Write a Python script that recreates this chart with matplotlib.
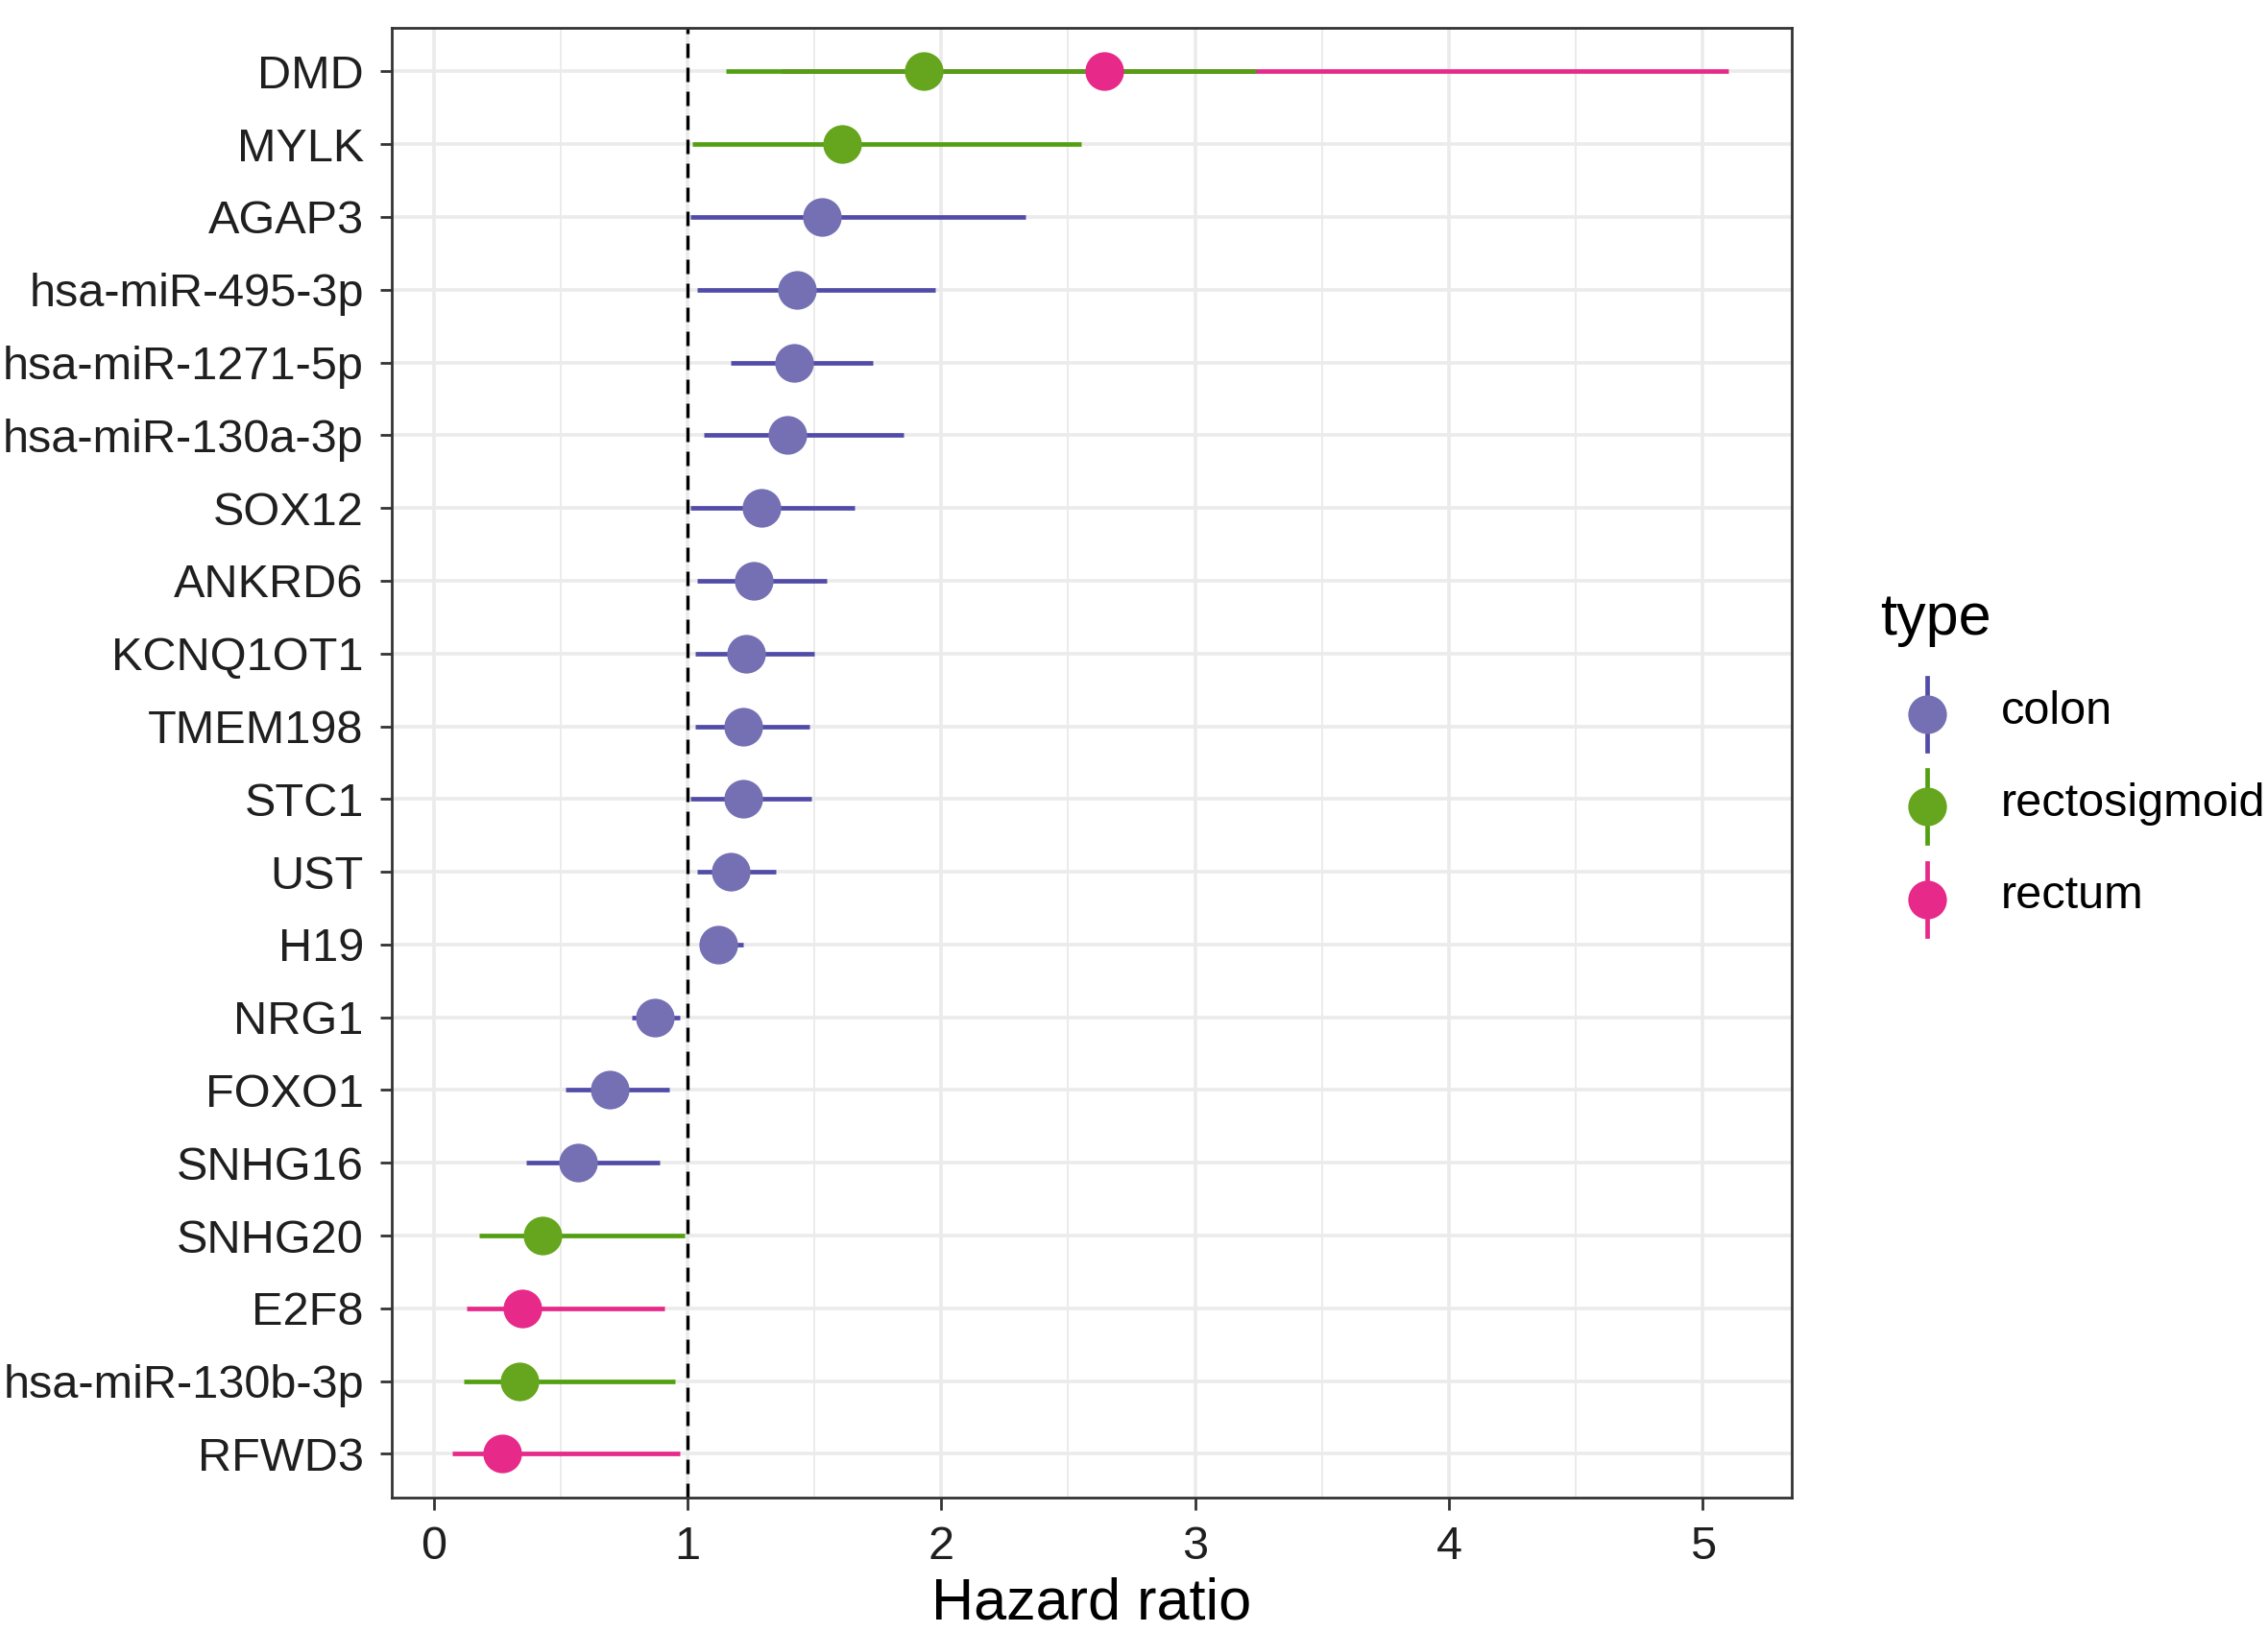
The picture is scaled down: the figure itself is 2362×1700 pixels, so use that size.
import matplotlib.pyplot as plt
from matplotlib.lines import Line2D
from matplotlib.ticker import MultipleLocator

plt.rcParams['font.family'] = ['Liberation Sans', 'DejaVu Sans']

# genes from top to bottom
genes = ['DMD', 'DMD', 'MYLK', 'AGAP3', 'hsa-miR-495-3p', 'hsa-miR-1271-5p',
         'hsa-miR-130a-3p', 'SOX12', 'ANKRD6', 'KCNQ1OT1', 'TMEM198', 'STC1',
         'UST', 'H19', 'NRG1', 'FOXO1', 'SNHG16', 'SNHG20', 'E2F8',
         'hsa-miR-130b-3p', 'RFWD3']
types = ['rectum', 'rectosigmoid', 'rectosigmoid', 'colon', 'colon', 'colon',
         'colon', 'colon', 'colon', 'colon', 'colon', 'colon',
         'colon', 'colon', 'colon', 'colon', 'colon', 'rectosigmoid', 'rectum',
         'rectosigmoid', 'rectum']
hr = [2.64, 1.93, 1.61, 1.53, 1.43, 1.42,
      1.395, 1.29, 1.26, 1.23, 1.22, 1.22,
      1.17, 1.12, 0.87, 0.695, 0.57, 0.43, 0.35,
      0.34, 0.27]
lower = [1.37, 1.153, 1.02, 1.01, 1.04, 1.17,
         1.065, 1.01, 1.04, 1.03, 1.03, 1.01,
         1.04, 1.05, 0.78, 0.52, 0.365, 0.18, 0.13,
         0.12, 0.075]
upper = [5.1, 3.24, 2.55, 2.33, 1.975, 1.73,
         1.85, 1.66, 1.55, 1.50, 1.48, 1.49,
         1.35, 1.22, 0.97, 0.93, 0.89, 0.99, 0.91,
         0.95, 0.97]

type_levels = ['colon', 'rectosigmoid', 'rectum']
point_colors = {'colon': '#7570B3', 'rectosigmoid': '#66A61E', 'rectum': '#E7298A'}
line_colors = {'colon': '#524CA8', 'rectosigmoid': '#52A012', 'rectum': '#E7298A'}

labels = []
for g in genes:
    if g not in labels:
        labels.append(g)
ypos = {g: len(labels) - 1 - i for i, g in enumerate(labels)}

fig = plt.figure(figsize=(11.81, 8.5), dpi=200)
ax = fig.add_axes([0.1727, 0.0824, 0.790 - 0.1727, 0.983 - 0.0824])

# grid
ax.set_xlim(-0.165, 5.35)
ax.set_ylim(-0.6, len(labels) - 0.4)
ax.xaxis.set_major_locator(MultipleLocator(1))
ax.xaxis.set_minor_locator(MultipleLocator(0.5))
ax.set_yticks(range(len(labels)))
ax.set_yticklabels(labels[::-1])
ax.grid(True, which='major', color='#EBEBEB', lw=1.3, zorder=0)
ax.grid(True, which='minor', axis='x', color='#EBEBEB', lw=0.7, zorder=0)
ax.set_axisbelow(True)

ax.axvline(1, color='black', ls=(0, (4.5, 3)), lw=1.2, zorder=1)

for g, t, lo, hi in zip(genes, types, lower, upper):
    ax.plot([lo, hi], [ypos[g], ypos[g]], color=line_colors[t], lw=1.7,
            solid_capstyle='butt', zorder=2)
for g, t, h in zip(genes, types, hr):
    ax.plot(h, ypos[g], 'o', color=point_colors[t], ms=14.5, mec='none', zorder=3)

for s in ax.spines.values():
    s.set_color('#333333')
    s.set_linewidth(1.0)
ax.tick_params(axis='both', which='major', length=4.5, width=1.0, color='#333333',
               labelsize=17.5, labelcolor='#1f1f1f', pad=6)
ax.tick_params(axis='x', which='minor', length=0)
ax.set_xlabel('Hazard ratio', fontsize=22, labelpad=3)

# legend drawn by hand to get ggplot-style pointrange keys
fig.text(1958 / 2362, 1 - 645 / 1700, 'type', fontsize=22, ha='left', va='center')
key_y = [744, 840, 937]
for t, ky in zip(type_levels, key_y):
    yf = 1 - ky / 1700
    xf = 2007 / 2362
    fig.add_artist(Line2D([xf, xf], [yf - 38 / 1700, yf + 38 / 1700], color=line_colors[t],
                          lw=1.7, transform=fig.transFigure))
    fig.add_artist(Line2D([xf], [yf], marker='o', color=point_colors[t], ms=14.5, mec='none',
                          transform=fig.transFigure))
    fig.text(2084 / 2362, yf + 3 / 1700, t, fontsize=17.5, ha='left', va='center')

fig.savefig('out.png', dpi=200)
